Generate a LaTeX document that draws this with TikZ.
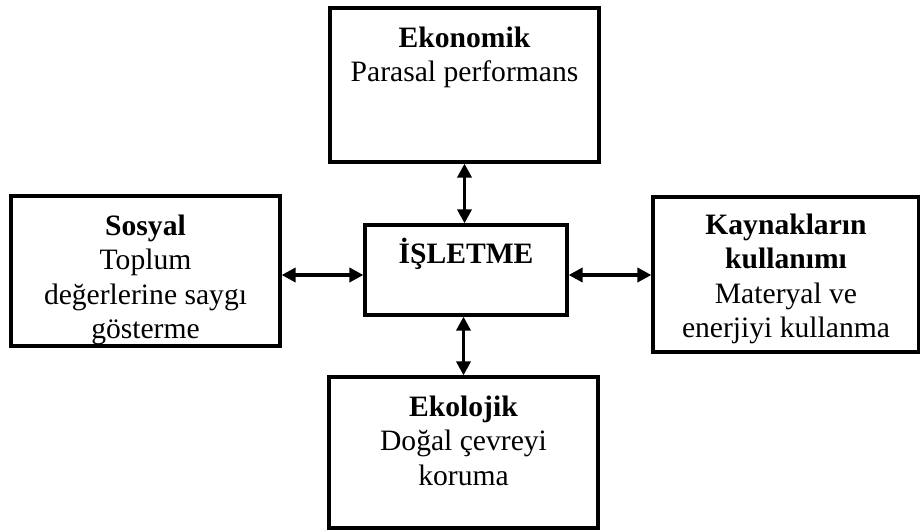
\documentclass[tikz,border=0pt]{standalone}
\usepackage{fontspec}
\setmainfont{Liberation Serif}
\usepackage{tikz}
\usetikzlibrary{arrows.meta}
\usetikzlibrary{positioning}
\tikzstyle{arrow} = [line width=3.6pt,{Triangle[length=14pt,width=14pt]}-{Triangle[length=14pt,width=14pt]}]
\tikzstyle{box} = [rectangle, draw=black, line width=3.2pt, inner sep=0pt]
\tikzstyle{boxtext} = [align=center, inner sep=0pt, font=\fontsize{29.6}{34.5}\selectfont]

\begin{document}
\begin{tikzpicture}[x=1pt, y=-1pt, node distance=20pt]
		\useasboundingbox (0,0) rectangle (920,530);
		\node (eko) [box, minimum width=269pt, minimum height=154pt] at (464.5,85) {};
		\node (sos) [box, minimum width=269pt, minimum height=150pt] at (145.5,271) {};
		\node (isl) [box, minimum width=202pt, minimum height=90pt] at (466,270) {};
		\node (kay) [box, minimum width=266pt, minimum height=155pt] at (786,274.5) {};
		\node (ekl) [box, minimum width=269pt, minimum height=151pt] at (463.5,452.5) {};
		\node (ekotext) [boxtext, below=of eko.north] {\textbf{Ekonomik}\\Parasal performans};
		\node (sostext) [boxtext, below=of sos.north] {\textbf{Sosyal}\\Toplum\\değerlerine saygı\\gösterme};
		\node (isltext) [boxtext, below=15pt of isl.north] {\textbf{İŞLETME}};
		\node (kaytext) [boxtext, below=18pt of kay.north] {\textbf{Kaynakların}\\\textbf{kullanımı}\\Materyal ve\\enerjiyi kullanma};
		\node (ekltext) [boxtext, below=of ekl.north] {\textbf{Ekolojik}\\Doğal çevreyi\\koruma};
		\coordinate (sol) at ([yshift=-5pt]isl.west);
		\coordinate (sag) at ([yshift=-5pt]isl.east);
		\draw [arrow] (eko.south) -- (eko.south |- isl.north);
		\draw [arrow] (ekl.north) -- (ekl.north |- isl.south);
		\draw [arrow] (sol -| sos.east) -- (sol);
		\draw [arrow] (sag) -- (sag -| kay.west);
\end{tikzpicture}
\end{document}
